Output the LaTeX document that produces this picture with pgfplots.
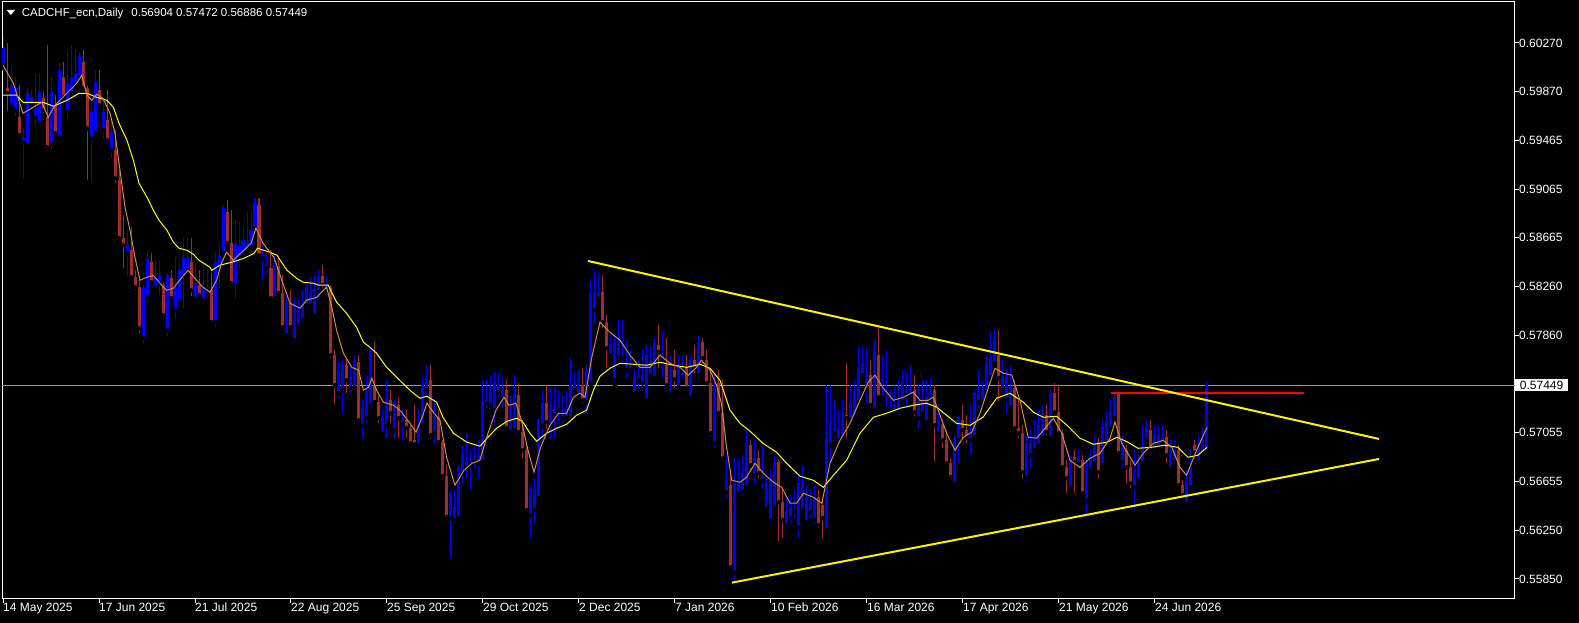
\documentclass[border=0pt]{standalone}
\usepackage{fontspec}
\setmainfont{Liberation Sans}
\usepackage{pgfplots}
\usepackage{pgfplotstable}
\pgfplotsset{compat=1.18}

\definecolor{bull}{RGB}{0,0,255}
\definecolor{bear}{RGB}{165,42,42}
\definecolor{fastma}{RGB}{210,140,70}
\definecolor{slowma}{RGB}{255,255,0}
\definecolor{bidline}{RGB}{150,150,160}

% daily bars, i = bar number (0 = 14 May 2025)
\pgfplotstableread{
i o h l c
0 0.60086 0.60317 0.60061 0.60226
1 0.59896 0.60267 0.59690 0.59855
2 0.59756 0.60069 0.59715 0.59921
3 0.59715 0.59987 0.59649 0.59896
4 0.59657 0.59921 0.59492 0.59509
5 0.59451 0.59566 0.59138 0.59492
6 0.59426 0.59896 0.59401 0.59855
7 0.59756 0.59880 0.59699 0.59822
8 0.59657 0.60020 0.59574 0.59731
9 0.59607 0.60020 0.59566 0.59864
10 0.59814 0.59864 0.59674 0.59715
11 0.59657 0.60251 0.59385 0.59409
12 0.59442 0.59987 0.59369 0.59864
13 0.59756 0.59839 0.59492 0.59525
14 0.59492 0.60102 0.59467 0.60045
15 0.59987 0.60111 0.59797 0.59822
16 0.59699 0.60185 0.59607 0.59937
17 0.59855 0.60251 0.59822 0.59987
18 0.59937 0.60210 0.59896 0.60020
19 0.59987 0.60194 0.59962 0.60161
20 0.60111 0.60210 0.59864 0.59896
21 0.59896 0.59921 0.59122 0.59566
22 0.59484 0.59797 0.59113 0.59699
23 0.59525 0.60045 0.59501 0.59946
24 0.59880 0.60045 0.59715 0.59756
25 0.59550 0.59814 0.59467 0.59699
26 0.59632 0.59880 0.59426 0.59467
27 0.59385 0.59632 0.59302 0.59534
28 0.59385 0.59550 0.59097 0.59154
29 0.59138 0.59220 0.58643 0.58659
30 0.58659 0.58849 0.58395 0.58602
31 0.58535 0.58725 0.58329 0.58602
32 0.58560 0.58750 0.58313 0.58337
33 0.58337 0.58395 0.58214 0.58255
34 0.58255 0.58313 0.57859 0.57917
35 0.57834 0.58272 0.57777 0.58255
36 0.58172 0.58560 0.58107 0.58486
37 0.58462 0.58535 0.58272 0.58297
38 0.58247 0.58478 0.58214 0.58329
39 0.58288 0.58478 0.58172 0.58354
40 0.58272 0.58288 0.58007 0.58024
41 0.57900 0.58370 0.57834 0.58354
42 0.58329 0.58395 0.58148 0.58164
43 0.58065 0.58502 0.57983 0.58247
44 0.58132 0.58462 0.58107 0.58395
45 0.58354 0.58659 0.58065 0.58502
46 0.58395 0.58659 0.58337 0.58494
47 0.58462 0.58659 0.58164 0.58230
48 0.58164 0.58453 0.58148 0.58288
49 0.58272 0.58395 0.58172 0.58189
50 0.58148 0.58453 0.58123 0.58255
51 0.58205 0.58395 0.58148 0.58230
52 0.58230 0.58370 0.57958 0.57967
53 0.57967 0.58544 0.57900 0.58462
54 0.58395 0.58602 0.58230 0.58519
55 0.58535 0.58932 0.58494 0.58915
56 0.58874 0.58973 0.58602 0.58618
57 0.58618 0.58890 0.58255 0.58288
58 0.58272 0.58808 0.58148 0.58618
59 0.58502 0.58792 0.58395 0.58602
60 0.58535 0.58750 0.58519 0.58643
61 0.58585 0.58874 0.58560 0.58618
62 0.58585 0.58874 0.58519 0.58725
63 0.58742 0.58989 0.58725 0.58948
64 0.58932 0.58989 0.58494 0.58519
65 0.58494 0.58577 0.58297 0.58519
66 0.58412 0.58519 0.58354 0.58429
67 0.58412 0.58560 0.58148 0.58164
68 0.58164 0.58519 0.58132 0.58429
69 0.58429 0.58494 0.58181 0.58205
70 0.58205 0.58354 0.57900 0.57925
71 0.57859 0.58189 0.57818 0.58123
72 0.58123 0.58230 0.57900 0.57925
73 0.57818 0.58164 0.57777 0.58107
74 0.57942 0.58148 0.57900 0.58040
75 0.57983 0.58230 0.57942 0.58107
76 0.58107 0.58297 0.58065 0.58255
77 0.58107 0.58337 0.58065 0.58214
78 0.58024 0.58354 0.58007 0.58189
79 0.58214 0.58395 0.58148 0.58346
80 0.58346 0.58437 0.58230 0.58272
81 0.58230 0.58354 0.58189 0.58272
82 0.58255 0.58272 0.57653 0.57695
83 0.57695 0.57736 0.57282 0.57447
84 0.57381 0.57637 0.57323 0.57571
85 0.57406 0.57653 0.57200 0.57612
86 0.57612 0.57670 0.57365 0.57488
87 0.57430 0.57612 0.57365 0.57513
88 0.57430 0.57695 0.57390 0.57653
89 0.57637 0.57695 0.57133 0.57158
90 0.57117 0.57323 0.56993 0.57257
91 0.57175 0.57530 0.57117 0.57406
92 0.57282 0.57752 0.57257 0.57736
93 0.57447 0.57802 0.57282 0.57307
94 0.57307 0.57365 0.57117 0.57175
95 0.57051 0.57241 0.57018 0.57183
96 0.57117 0.57488 0.56993 0.57340
97 0.57323 0.57406 0.57117 0.57216
98 0.57076 0.57323 0.56993 0.57307
99 0.57282 0.57340 0.56993 0.57175
100 0.57133 0.57241 0.56977 0.57167
101 0.57158 0.57241 0.56993 0.57092
102 0.57092 0.57117 0.56952 0.56968
103 0.56993 0.57282 0.56935 0.56960
104 0.56952 0.57241 0.56935 0.57117
105 0.57117 0.57513 0.57076 0.57447
106 0.57406 0.57612 0.57323 0.57505
107 0.57488 0.57612 0.56993 0.57035
108 0.57051 0.57340 0.56952 0.57183
109 0.57183 0.57241 0.56952 0.56977
110 0.56977 0.56993 0.56655 0.56697
111 0.56697 0.56787 0.56334 0.56358
112 0.56350 0.56581 0.56004 0.56556
113 0.56334 0.56581 0.56293 0.56440
114 0.56350 0.56787 0.56318 0.56770
115 0.56721 0.56952 0.56622 0.56870
116 0.56770 0.57051 0.56663 0.56812
117 0.56787 0.56911 0.56565 0.56820
118 0.56812 0.56952 0.56746 0.56837
119 0.56803 0.56993 0.56655 0.56870
120 0.56812 0.57488 0.56787 0.57315
121 0.57299 0.57488 0.57241 0.57323
122 0.57282 0.57530 0.57241 0.57390
123 0.57241 0.57555 0.57117 0.57463
124 0.57390 0.57555 0.57323 0.57447
125 0.57348 0.57505 0.57241 0.57422
126 0.57406 0.57488 0.57060 0.57092
127 0.57060 0.57365 0.57018 0.57282
128 0.57076 0.57530 0.57035 0.57381
129 0.57365 0.57463 0.57035 0.57060
130 0.57060 0.57158 0.56828 0.56911
131 0.56911 0.56952 0.56400 0.56416
132 0.56375 0.56622 0.56169 0.56597
133 0.56416 0.56680 0.56293 0.56581
134 0.56515 0.57175 0.56498 0.57158
135 0.57117 0.57406 0.56952 0.57299
136 0.57299 0.57447 0.57076 0.57142
137 0.57117 0.57422 0.56993 0.57282
138 0.57200 0.57422 0.56993 0.57282
139 0.57241 0.57406 0.57117 0.57266
140 0.57175 0.57365 0.57117 0.57216
141 0.57175 0.57406 0.57158 0.57257
142 0.57175 0.57678 0.57158 0.57447
143 0.57406 0.57555 0.57365 0.57472
144 0.57365 0.57571 0.57323 0.57447
145 0.57447 0.57587 0.57282 0.57323
146 0.57307 0.57612 0.57200 0.57571
147 0.57463 0.58313 0.57447 0.58205
148 0.58065 0.58395 0.57942 0.58205
149 0.58164 0.58370 0.58148 0.58214
150 0.58214 0.58354 0.57900 0.57967
151 0.57967 0.58024 0.57571 0.57752
152 0.57695 0.57859 0.57653 0.57785
153 0.57488 0.57875 0.57447 0.57802
154 0.57678 0.57983 0.57637 0.57802
155 0.57670 0.57983 0.57612 0.57687
156 0.57571 0.57818 0.57488 0.57628
157 0.57571 0.57736 0.57530 0.57612
158 0.57381 0.57571 0.57365 0.57530
159 0.57488 0.57653 0.57406 0.57522
160 0.57463 0.57736 0.57406 0.57538
161 0.57323 0.57777 0.57307 0.57695
162 0.57530 0.57777 0.57488 0.57612
163 0.57505 0.57834 0.57472 0.57793
164 0.57777 0.57942 0.57571 0.57720
165 0.57653 0.57884 0.57488 0.57695
166 0.57612 0.57834 0.57406 0.57447
167 0.57381 0.57695 0.57365 0.57571
168 0.57571 0.57736 0.57406 0.57497
169 0.57430 0.57695 0.57406 0.57612
170 0.57571 0.57695 0.57488 0.57595
171 0.57595 0.57695 0.57390 0.57422
172 0.57348 0.57695 0.57307 0.57653
173 0.57653 0.57777 0.57530 0.57587
174 0.57530 0.57859 0.57505 0.57802
175 0.57802 0.57834 0.57612 0.57670
176 0.57653 0.57736 0.57422 0.57463
177 0.57463 0.57571 0.57010 0.57051
178 0.56968 0.57530 0.56911 0.57463
179 0.57463 0.57571 0.57175 0.57216
180 0.57216 0.57488 0.56812 0.56845
181 0.56565 0.56870 0.56498 0.56663
182 0.56622 0.56746 0.55921 0.55946
183 0.55905 0.56845 0.55825 0.56638
184 0.56556 0.56828 0.56515 0.56638
185 0.56565 0.56870 0.56515 0.56721
186 0.56605 0.57076 0.56581 0.56968
187 0.56952 0.56993 0.56730 0.56787
188 0.56704 0.56993 0.56622 0.56853
189 0.56845 0.56911 0.56663 0.56721
190 0.56663 0.56935 0.56581 0.56697
191 0.56432 0.56704 0.56400 0.56638
192 0.56334 0.56746 0.56293 0.56663
193 0.56440 0.56870 0.56416 0.56812
194 0.56812 0.56828 0.56144 0.56482
195 0.56482 0.56581 0.56169 0.56334
196 0.56293 0.56540 0.56251 0.56416
197 0.56350 0.56540 0.56293 0.56440
198 0.56400 0.56581 0.56334 0.56416
199 0.56276 0.56730 0.56169 0.56638
200 0.56416 0.56787 0.56400 0.56663
201 0.56318 0.56622 0.56293 0.56523
202 0.56400 0.56581 0.56334 0.56482
203 0.56334 0.56622 0.56293 0.56523
204 0.56523 0.56581 0.56251 0.56293
205 0.56457 0.56523 0.56169 0.56350
206 0.56251 0.57447 0.56210 0.57018
207 0.56952 0.57447 0.56787 0.57133
208 0.57051 0.57323 0.56993 0.57092
209 0.56993 0.57241 0.56952 0.57084
210 0.57018 0.57323 0.56993 0.57158
211 0.57200 0.57628 0.56993 0.57175
212 0.57158 0.57447 0.57117 0.57299
213 0.57183 0.57488 0.57158 0.57390
214 0.57307 0.57760 0.57282 0.57595
215 0.57530 0.57777 0.57505 0.57628
216 0.57406 0.57760 0.57282 0.57530
217 0.57530 0.57653 0.57241 0.57282
218 0.57249 0.57818 0.57200 0.57752
219 0.57695 0.57917 0.57323 0.57348
220 0.57348 0.57695 0.57307 0.57390
221 0.57249 0.57736 0.57224 0.57266
222 0.57241 0.57406 0.57200 0.57257
223 0.57224 0.57447 0.57200 0.57290
224 0.57224 0.57488 0.57175 0.57340
225 0.57307 0.57571 0.57282 0.57472
226 0.57365 0.57555 0.57266 0.57406
227 0.57365 0.57612 0.57323 0.57422
228 0.57406 0.57530 0.57175 0.57224
229 0.57175 0.57463 0.57076 0.57323
230 0.57216 0.57488 0.57175 0.57323
231 0.57142 0.57488 0.57117 0.57348
232 0.57323 0.57505 0.57282 0.57422
233 0.57406 0.57447 0.56803 0.57117
234 0.57051 0.57282 0.56993 0.57158
235 0.57117 0.57158 0.56911 0.56993
236 0.56993 0.57076 0.56762 0.56803
237 0.56803 0.56845 0.56663 0.56688
238 0.56638 0.57035 0.56605 0.57018
239 0.56993 0.57200 0.56787 0.57175
240 0.57158 0.57282 0.56993 0.57076
241 0.57076 0.57200 0.56952 0.57018
242 0.56993 0.57282 0.56870 0.57060
243 0.57018 0.57406 0.56993 0.57381
244 0.57307 0.57571 0.57241 0.57381
245 0.57307 0.57488 0.57282 0.57406
246 0.57390 0.57695 0.57365 0.57628
247 0.57513 0.57884 0.57488 0.57670
248 0.57628 0.57900 0.57612 0.57818
249 0.57695 0.57900 0.57299 0.57505
250 0.57406 0.57653 0.57365 0.57505
251 0.57323 0.57571 0.57200 0.57513
252 0.57266 0.57612 0.57241 0.57430
253 0.57422 0.57488 0.57076 0.57092
254 0.57092 0.57323 0.56993 0.57051
255 0.57051 0.57117 0.56663 0.56730
256 0.56688 0.57035 0.56638 0.56968
257 0.56870 0.57076 0.56746 0.56968
258 0.56911 0.57158 0.56870 0.56993
259 0.56952 0.57241 0.56927 0.57117
260 0.57018 0.57282 0.56993 0.57216
261 0.57200 0.57282 0.57018 0.57060
262 0.57010 0.57406 0.56993 0.57381
263 0.57381 0.57463 0.57200 0.57224
264 0.57224 0.57447 0.57018 0.57051
265 0.57051 0.57076 0.56746 0.56770
266 0.56770 0.56828 0.56540 0.56680
267 0.56597 0.56870 0.56581 0.56853
268 0.56853 0.56911 0.56540 0.56812
269 0.56803 0.56911 0.56746 0.56845
270 0.56828 0.56870 0.56523 0.56556
271 0.56498 0.56828 0.56375 0.56812
272 0.56746 0.56911 0.56704 0.56853
273 0.56803 0.57035 0.56762 0.56977
274 0.56977 0.57010 0.56663 0.56730
275 0.56787 0.57158 0.56746 0.57100
276 0.56977 0.57224 0.56952 0.57158
277 0.57092 0.57323 0.57060 0.57224
278 0.57175 0.57370 0.57158 0.57348
279 0.57381 0.57384 0.56870 0.56886
280 0.56812 0.57035 0.56746 0.56935
281 0.56911 0.56952 0.56622 0.56770
282 0.56770 0.56828 0.56581 0.56638
283 0.56605 0.56911 0.56400 0.56688
284 0.56663 0.56870 0.56622 0.56803
285 0.56812 0.57117 0.56787 0.56935
286 0.56993 0.57158 0.56952 0.57092
287 0.57076 0.57158 0.56911 0.56935
288 0.56911 0.57117 0.56870 0.57035
289 0.56935 0.57117 0.56911 0.57035
290 0.56968 0.57117 0.56911 0.57018
291 0.57018 0.57076 0.56787 0.56870
292 0.56762 0.56993 0.56730 0.56911
293 0.56812 0.56993 0.56787 0.56911
294 0.56911 0.56952 0.56597 0.56622
295 0.56622 0.56663 0.56498 0.56540
296 0.56474 0.56746 0.56457 0.56663
297 0.56605 0.56911 0.56581 0.56770
298 0.56952 0.56993 0.56828 0.56894
299 0.56812 0.57035 0.56787 0.56935
300 0.56886 0.57100 0.56861 0.56993
301 0.56904 0.57472 0.56886 0.57449
}\candles

\pgfplotsset{
  candle/.style 2 args={
    only marks, mark=none, forget plot,
    /pgfplots/error bars/y dir=plus,
    /pgfplots/error bars/y explicit,
    /pgfplots/error bars/error mark=none,
    /pgfplots/error bars/error bar style={color=#1, line width=#2},
  },
  up/.style={x filter/.expression={\thisrow{c}>=\thisrow{o} ? x : nan}},
  down/.style={x filter/.expression={\thisrow{c}<\thisrow{o} ? x : nan}},
  chartbox/.style={
    at={(0,0)}, anchor=south west,
    scale only axis, width=1513pt, height=597pt,
    xmin=-0.25, xmax=378, ymin=0.55684, ymax=0.60608,
  },
}

\begin{document}
\begin{tikzpicture}
\fill[black] (-2pt,-24pt) rectangle (1577pt,599pt);
% frame, ticks, bid line and candles
\begin{axis}[
  chartbox,
  axis background/.style={fill=black},
  axis line style={white, line width=1pt},
  tick align=outside, major tick length=4pt,
  tick style={white, line width=1pt},
  xtick pos=left, ytick pos=right, yticklabel pos=right,
  xtick={0,24,...,288},
  xticklabels={14 May 2025,17 Jun 2025,21 Jul 2025,22 Aug 2025,25 Sep 2025,29 Oct 2025,2 Dec 2025,7 Jan 2026,10 Feb 2026,16 Mar 2026,17 Apr 2026,21 May 2026,24 Jun 2026},
  ytick={0.55850,0.56250,0.56655,0.57055,0.57860,0.58260,0.58665,0.59065,0.59465,0.59870,0.60270},
  scaled y ticks=false,
  /pgf/number format/assume math mode=true,
  yticklabel style={/pgf/number format/fixed, /pgf/number format/fixed zerofill, /pgf/number format/precision=5},
  tick label style={white, font=\fontsize{12}{14}\selectfont},
  xticklabel style={anchor=north west, inner sep=0pt},
  yticklabel style={anchor=west, inner sep=0pt},
  extra y ticks={0.57449},
  extra y tick style={major tick length=0pt,
    yticklabel style={fill=white, text=black, inner xsep=4.7pt, inner ysep=2.2pt}},
]
\addplot[bidline, line width=1pt, forget plot] coordinates {(-0.25,0.57449) (378,0.57449)};

\addplot[up, candle={bull}{1pt}] table[x=i, y=l, y error expr=\thisrow{h}-\thisrow{l}] {\candles};
\addplot[up, candle={bull}{3pt}] table[x=i, y=o, y error expr=\thisrow{c}-\thisrow{o}] {\candles};
\addplot[down, candle={bear}{1pt}] table[x=i, y=l, y error expr=\thisrow{h}-\thisrow{l}] {\candles};
\addplot[down, candle={bear}{3pt}] table[x=i, y=c, y error expr=\thisrow{o}-\thisrow{c}] {\candles};
\end{axis}

% moving averages and drawn lines, over the candles
\begin{axis}[chartbox, hide axis]
% slow moving average
\addplot[slowma, line width=1pt] coordinates {
(0,0.59839)(3.4,0.59839)(5,0.59781)(10,0.59781)(12.6,0.59748)(16,0.59797)(19,0.59855)(21,0.59855)(23.4,0.59822)(26,0.59797)(27.6,0.59740)(29,0.59607)(31,0.59467)(32.6,0.59302)(34,0.59113)(36,0.58998)(37.6,0.58890)(39,0.58808)(41,0.58725)(42.6,0.58626)(44,0.58577)(46,0.58560)(47.6,0.58527)(49,0.58478)(51.75,0.58420)(52.2,0.58395)(54.25,0.58437)(57.25,0.58462)(60.25,0.58494)(62.75,0.58535)(63.6,0.58577)(66.75,0.58544)(68.5,0.58519)(71,0.58395)(73.4,0.58329)(75,0.58297)(77.6,0.58288)(79,0.58272)(81.3,0.58272)(83.4,0.58132)(85.9,0.58040)(88.4,0.57925)(90.1,0.57802)(91.75,0.57760)(93.4,0.57711)(95.9,0.57595)(98.4,0.57513)(101.75,0.57406)(102.6,0.57381)(104.25,0.57340)(106,0.57356)(108.4,0.57307)(110,0.57183)(112.6,0.57051)(116,0.56977)(119.25,0.56944)(121,0.57010)(123.4,0.57092)(126,0.57150)(128.5,0.57175)(130,0.57142)(131.75,0.57051)(133.4,0.56985)(135.9,0.57051)(138.4,0.57092)(140.9,0.57125)(143.4,0.57200)(145.9,0.57241)(147.6,0.57406)(149.25,0.57522)(151.75,0.57587)(154.25,0.57628)(157.6,0.57620)(161,0.57612)(164.25,0.57637)(167.6,0.57612)(171,0.57595)(174.25,0.57620)(176.75,0.57587)(179.25,0.57488)(181.75,0.57241)(184.25,0.57133)(186.75,0.57068)(190,0.56968)(193.4,0.56894)(195.9,0.56803)(199.25,0.56697)(202.6,0.56663)(205.1,0.56605)(207.6,0.56704)(210.9,0.56828)(214.25,0.57051)(217.6,0.57183)(220.9,0.57216)(224.25,0.57257)(227.6,0.57282)(230.9,0.57299)(233.4,0.57266)(235.9,0.57200)(238.4,0.57133)(241.75,0.57117)(245,0.57183)(248.4,0.57340)(251.75,0.57381)(255.1,0.57307)(257.6,0.57224)(260.1,0.57183)(263.4,0.57191)(266,0.57117)(269.25,0.57010)(272.6,0.56960)(276,0.56977)(278.5,0.57018)(281.25,0.56977)(283.75,0.56927)(287.1,0.56935)(290.4,0.56952)(293.75,0.56935)(296.25,0.56853)(298.75,0.56870)(301,0.56935)
};
% fast moving average
\addplot[fastma, line width=1pt] coordinates {
(0,0.60086)(2.6,0.59937)(5,0.59690)(7.6,0.59740)(9.7,0.59781)(11.3,0.59657)(13,0.59756)(16,0.59855)(18.4,0.59937)(19.7,0.60004)(21,0.59839)(22.2,0.59797)(23.4,0.59847)(25,0.59814)(26.75,0.59690)(28,0.59525)(29.25,0.59220)(30.5,0.58915)(31.75,0.58725)(33,0.58502)(34.25,0.58313)(35.9,0.58337)(37.6,0.58354)(39.25,0.58288)(40.9,0.58230)(42.6,0.58247)(44.7,0.58337)(46.3,0.58395)(48.4,0.58313)(50,0.58255)(51.75,0.58214)(53.4,0.58313)(54.7,0.58462)(55.9,0.58544)(57.6,0.58478)(59.7,0.58544)(62,0.58618)(63.25,0.58742)(65,0.58618)(67.75,0.58502)(69.7,0.58313)(71.75,0.58123)(74.25,0.58082)(75.9,0.58148)(78.4,0.58172)(80.9,0.58255)(82.2,0.58090)(83.4,0.57900)(85.1,0.57711)(87.2,0.57595)(88.9,0.57571)(90.1,0.57406)(91.4,0.57430)(92.2,0.57505)(93.4,0.57406)(95.1,0.57307)(97.6,0.57282)(99.25,0.57241)(101.75,0.57133)(103.25,0.57060)(104.7,0.57175)(106,0.57299)(107.6,0.57224)(109.25,0.57158)(110.9,0.56853)(113,0.56622)(115.25,0.56746)(117.25,0.56803)(119.2,0.56828)(121.25,0.57051)(123.25,0.57241)(125.25,0.57348)(126.5,0.57282)(128.2,0.57299)(129.6,0.57158)(131.25,0.56911)(132.75,0.56730)(134.4,0.56935)(136.75,0.57117)(138.9,0.57216)(140.9,0.57216)(142.6,0.57348)(144.25,0.57381)(145.5,0.57348)(147.2,0.57678)(149.25,0.57967)(151.75,0.57884)(154.25,0.57818)(156.75,0.57695)(159.25,0.57595)(161.75,0.57595)(164.25,0.57695)(166.75,0.57628)(169.25,0.57595)(171.3,0.57530)(173.4,0.57595)(174.6,0.57653)(176.75,0.57571)(178.4,0.57447)(179.6,0.57299)(180.9,0.56935)(182.2,0.56663)(184.25,0.56647)(185.9,0.56688)(188,0.56803)(190.1,0.56721)(192.6,0.56647)(194.7,0.56605)(196.75,0.56474)(198.4,0.56474)(200.1,0.56556)(202.6,0.56523)(204.7,0.56474)(206.75,0.56803)(209.25,0.56993)(211.75,0.57133)(214.25,0.57323)(216.3,0.57472)(218,0.57530)(220.1,0.57422)(222.6,0.57323)(225.1,0.57348)(227.6,0.57390)(229.25,0.57323)(231.3,0.57323)(232.6,0.57348)(234.25,0.57200)(235.9,0.57051)(238,0.56911)(240.1,0.57018)(242.2,0.57060)(244.25,0.57216)(246.3,0.57422)(248,0.57587)(250.1,0.57546)(252.2,0.57530)(254.25,0.57323)(256.3,0.57018)(258.4,0.57010)(260.1,0.57076)(262.6,0.57175)(264.7,0.57051)(266.75,0.56828)(269.25,0.56770)(271.75,0.56845)(274.25,0.56886)(276.75,0.57010)(278,0.57142)(279.7,0.56968)(283,0.56787)(285.1,0.56886)(287.6,0.56968)(290.1,0.56993)(292.2,0.56935)(294.25,0.56770)(295.9,0.56704)(298.4,0.56911)(301,0.57100)
};
% resistance level
\addplot[red, line width=2pt] coordinates {(277,0.57383) (325.25,0.57383)};
% triangle lines
\addplot[yellow, line width=2pt] coordinates {(146.25,0.58472) (344,0.57004)};
\addplot[yellow, line width=2pt] coordinates {(182.25,0.55819) (344,0.56839)};
\end{axis}

% chart header
\fill[white] (4.7pt,589pt) -- (13pt,589pt) -- (8.85pt,584pt) -- cycle;
\node[anchor=north west, inner sep=0pt, white, font=\fontsize{11.5}{13}\selectfont]
  at (19.7pt,590.7pt) {CADCHF\_ecn,Daily\hspace{8pt}0.56904 0.57472 0.56886 0.57449};
\pgfresetboundingbox
\path (-2pt,-24pt) rectangle (1577pt,599pt);
\end{tikzpicture}
\end{document}
